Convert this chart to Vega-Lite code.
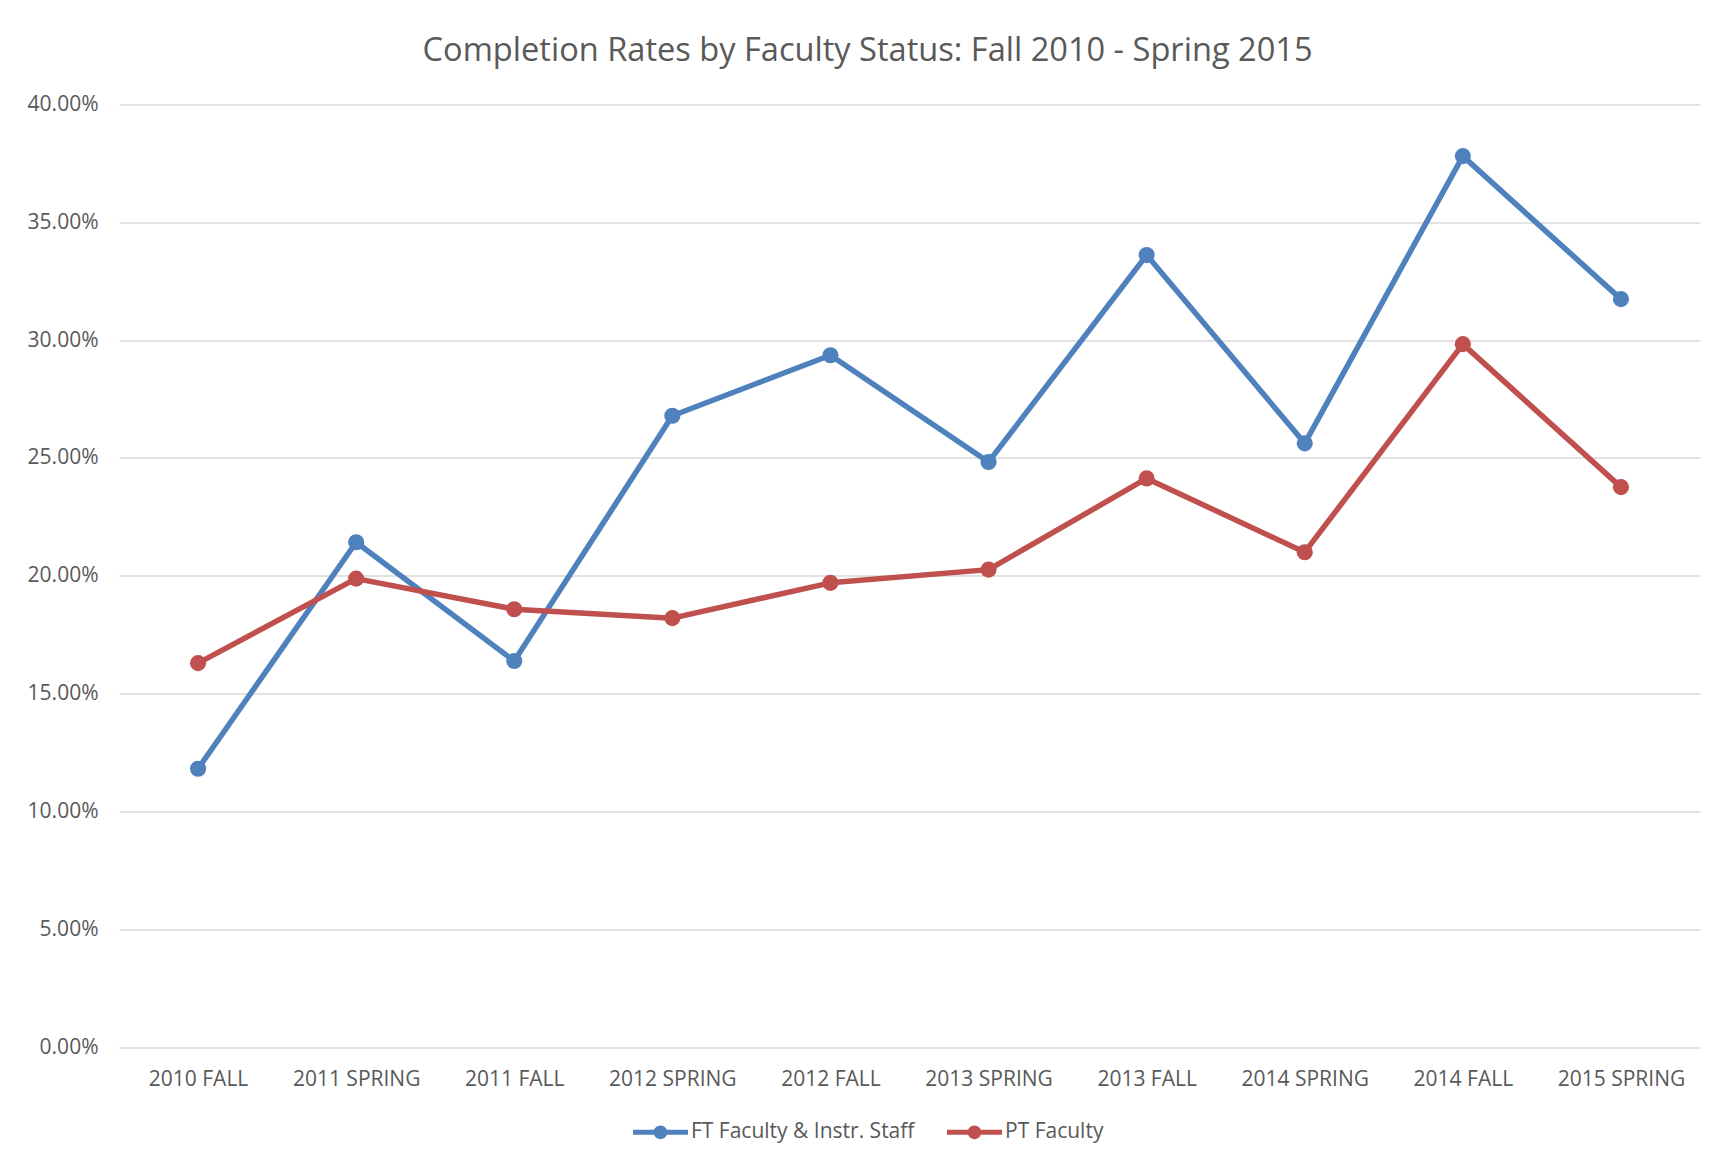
{
  "$schema": "https://vega.github.io/schema/vega-lite/v6.json",
  "width": 1581,
  "height": 942.5,
  "autosize": {"type": "none"},
  "padding": {"left": 119, "top": 104.5, "right": 24, "bottom": 120},
  "background": "white",
  "title": {
    "text": "Completion Rates by Faculty Status: Fall 2010 - Spring 2015",
    "font": "Open Sans",
    "fontSize": 32.6,
    "fontWeight": "normal",
    "color": "#595959",
    "anchor": "middle",
    "frame": "bounds",
    "baseline": "alphabetic",
    "offset": 0,
    "dx": 4
  },
  "config": {
    "font": "Open Sans",
    "view": {"stroke": null}
  },
  "data": {
    "values": [
      {"term": "2010 FALL", "series": "FT Faculty & Instr. Staff", "rate": 0.1181},
      {"term": "2011 SPRING", "series": "FT Faculty & Instr. Staff", "rate": 0.2142},
      {"term": "2011 FALL", "series": "FT Faculty & Instr. Staff", "rate": 0.1638},
      {"term": "2012 SPRING", "series": "FT Faculty & Instr. Staff", "rate": 0.2679},
      {"term": "2012 FALL", "series": "FT Faculty & Instr. Staff", "rate": 0.2936},
      {"term": "2013 SPRING", "series": "FT Faculty & Instr. Staff", "rate": 0.2483},
      {"term": "2013 FALL", "series": "FT Faculty & Instr. Staff", "rate": 0.3361},
      {"term": "2014 SPRING", "series": "FT Faculty & Instr. Staff", "rate": 0.2562},
      {"term": "2014 FALL", "series": "FT Faculty & Instr. Staff", "rate": 0.3781},
      {"term": "2015 SPRING", "series": "FT Faculty & Instr. Staff", "rate": 0.3174},
      {"term": "2010 FALL", "series": "PT Faculty", "rate": 0.1629},
      {"term": "2011 SPRING", "series": "PT Faculty", "rate": 0.1988},
      {"term": "2011 FALL", "series": "PT Faculty", "rate": 0.1858},
      {"term": "2012 SPRING", "series": "PT Faculty", "rate": 0.1820},
      {"term": "2012 FALL", "series": "PT Faculty", "rate": 0.1970},
      {"term": "2013 SPRING", "series": "PT Faculty", "rate": 0.2026},
      {"term": "2013 FALL", "series": "PT Faculty", "rate": 0.2413},
      {"term": "2014 SPRING", "series": "PT Faculty", "rate": 0.2100},
      {"term": "2014 FALL", "series": "PT Faculty", "rate": 0.2983},
      {"term": "2015 SPRING", "series": "PT Faculty", "rate": 0.2376}
    ]
  },
  "mark": {
    "type": "line",
    "strokeWidth": 5.5,
    "strokeJoin": "round",
    "strokeCap": "round",
    "point": {"filled": true, "size": 260}
  },
  "encoding": {
    "x": {
      "field": "term",
      "type": "ordinal",
      "sort": null,
      "scale": {"type": "point", "padding": 0.5},
      "axis": {
        "title": null,
        "labelAngle": 0,
        "labelFontSize": 21,
        "labelColor": "#595959",
        "labelPadding": 21,
        "ticks": false,
        "domain": false,
        "grid": false
      }
    },
    "y": {
      "field": "rate",
      "type": "quantitative",
      "scale": {"domain": [0, 0.4], "nice": false},
      "axis": {
        "title": null,
        "format": ".2%",
        "values": [0, 0.05, 0.1, 0.15, 0.2, 0.25, 0.3, 0.35, 0.4],
        "labelFontSize": 21,
        "labelColor": "#595959",
        "labelPadding": 21,
        "ticks": false,
        "domain": false,
        "gridColor": "#D9D9D9",
        "gridWidth": 1.5
      }
    },
    "color": {
      "field": "series",
      "type": "nominal",
      "scale": {
        "domain": ["FT Faculty & Instr. Staff", "PT Faculty"],
        "range": ["#4F81BD", "#C0504D"]
      },
      "legend": {
        "title": null,
        "orient": "none",
        "direction": "horizontal",
        "legendX": 514,
        "legendY": 1000,
        "padding": 0,
        "labelFontSize": 21,
        "labelLimit": 500,
        "labelColor": "#595959",
        "labelOffset": 3,
        "columnPadding": 32,
        "symbolType": "M-1,-0.09L1,-0.09L1,0.09L-1,0.09Z M0.25,0A0.25,0.25,0,1,1,-0.25,0A0.25,0.25,0,1,1,0.25,0Z",
        "symbolSize": 3025,
        "encode": {
          "symbols": {
            "update": {
              "fill": {"scale": "color", "field": "value"},
              "strokeWidth": {"value": 0},
              "opacity": {"value": 1}
            }
          }
        }
      }
    }
  }
}
